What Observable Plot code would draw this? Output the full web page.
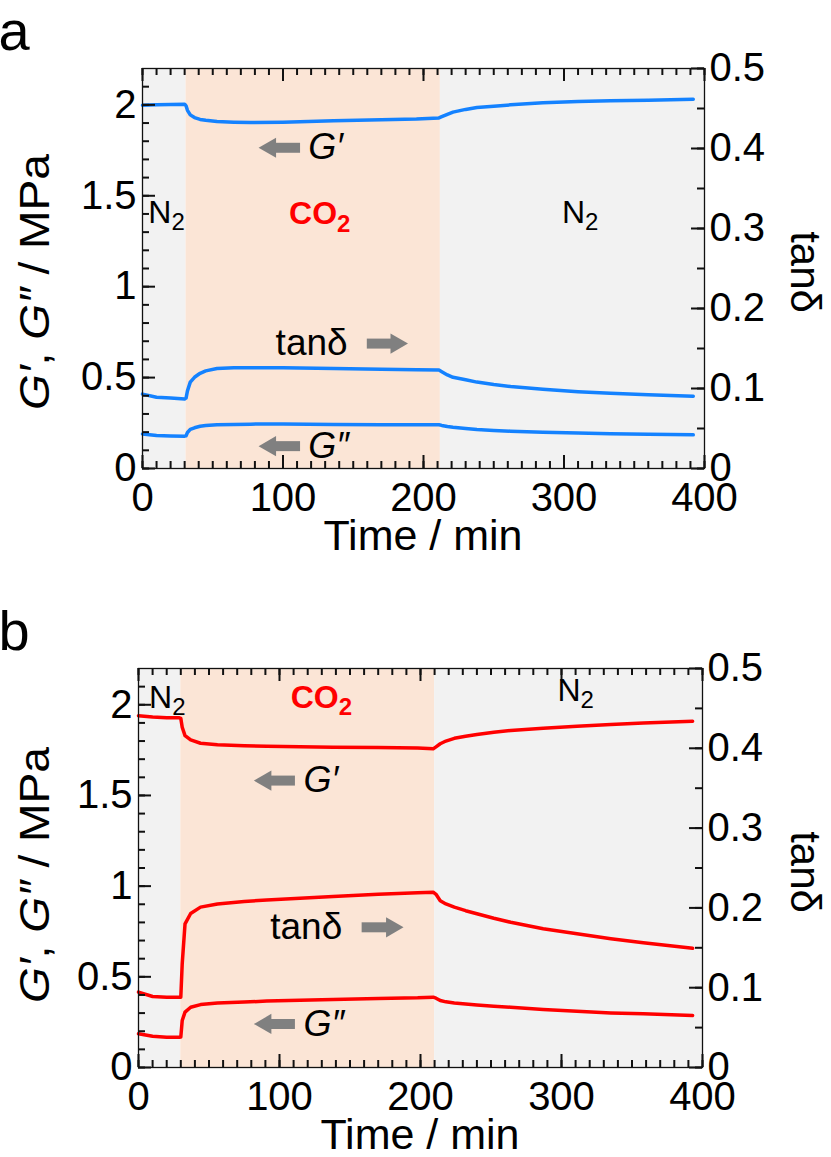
<!DOCTYPE html>
<html><head><meta charset="utf-8">
<script src="https://cdn.jsdelivr.net/npm/d3@7"></script>
<script src="https://cdn.jsdelivr.net/npm/@observablehq/plot@0.6"></script>
<style>
body{margin:0;background:#fff;}
#chart svg{display:block;}
</style></head><body><div id="chart"></div>
<script>
// ---------- data: panel a ----------
const timeA = [0, 10, 20, 30, 31, 32, 34, 37, 41, 45, 53, 65, 77, 100, 136, 170, 195, 211, 213, 217, 221, 230, 238, 250, 262, 285, 310, 333, 360, 392];
const gPrimeA = [1.998, 2.000, 2.002, 2.004, 1.995, 1.970, 1.945, 1.930, 1.920, 1.915, 1.908, 1.905, 1.903, 1.905, 1.912, 1.918, 1.922, 1.928, 1.935, 1.948, 1.960, 1.975, 1.985, 1.993, 2.000, 2.012, 2.018, 2.022, 2.026, 2.031];
const gDoublePrimeA = [0.190, 0.181, 0.179, 0.178, 0.180, 0.198, 0.215, 0.224, 0.232, 0.236, 0.240, 0.242, 0.244, 0.245, 0.242, 0.241, 0.240, 0.241, 0.237, 0.231, 0.227, 0.220, 0.214, 0.209, 0.205, 0.200, 0.195, 0.191, 0.188, 0.185];
const tanDeltaA = [0.093, 0.089, 0.088, 0.087, 0.088, 0.097, 0.108, 0.114, 0.119, 0.122, 0.125, 0.126, 0.126, 0.126, 0.125, 0.124, 0.1234, 0.123, 0.121, 0.117, 0.114, 0.111, 0.108, 0.105, 0.1025, 0.099, 0.096, 0.094, 0.0923, 0.0904];
const phasesA = [{gas: "N2", start: 0, end: 31}, {gas: "CO2", start: 31, end: 212}, {gas: "N2", start: 212, end: 400}];

// ---------- data: panel b ----------
const timeB = [0, 10, 20, 29, 30, 31, 33, 37, 44, 56, 75, 91, 138, 170, 198, 209, 211, 214, 218, 224, 232, 240, 252, 264, 287, 311, 335, 358, 393];
const gPrimeB = [1.940, 1.932, 1.928, 1.928, 1.925, 1.876, 1.830, 1.806, 1.788, 1.779, 1.774, 1.771, 1.766, 1.764, 1.762, 1.757, 1.768, 1.785, 1.800, 1.815, 1.826, 1.836, 1.848, 1.858, 1.871, 1.882, 1.891, 1.900, 1.909];
const gDoublePrimeB = [0.186, 0.172, 0.167, 0.167, 0.168, 0.259, 0.305, 0.332, 0.347, 0.355, 0.361, 0.366, 0.375, 0.380, 0.384, 0.3876, 0.382, 0.369, 0.362, 0.356, 0.350, 0.345, 0.338, 0.332, 0.320, 0.310, 0.301, 0.296, 0.2866];
const tanDeltaB = [0.0945, 0.089, 0.088, 0.088, 0.088, 0.130, 0.180, 0.193, 0.201, 0.205, 0.208, 0.210, 0.2143, 0.217, 0.219, 0.2197, 0.217, 0.209, 0.205, 0.2009, 0.1965, 0.1926, 0.187, 0.182, 0.1738, 0.1675, 0.1613, 0.1562, 0.1495];
const phasesB = [{gas: "N2", start: 0, end: 30}, {gas: "CO2", start: 30, end: 210}, {gas: "N2", start: 210, end: 400}];

// ---------- annotations (data units: time, MPa) ----------
const gasLabelsA = [{main: "N", sub: "2", t: 20.6, v: 1.408, co2: false}, {main: "CO", sub: "2", t: 138.5, v: 1.40, co2: true}, {main: "N", sub: "2", t: 315, v: 1.408, co2: false}];
const gasLabelsB = [{main: "N", sub: "2", t: 23.9, v: 2.04, co2: false}, {main: "CO", sub: "2", t: 142, v: 2.04, co2: true}, {main: "N", sub: "2", t: 313.5, v: 2.08, co2: false}];
const arrowsA = [{tail: 112.5, tip: 82.6, v: 1.764}, {tail: 160, tip: 189, v: 0.687}, {tail: 112.5, tip: 82.6, v: 0.123}];
const arrowsB = [{tail: 111.3, tip: 81.8, v: 1.582}, {tail: 158.6, tip: 188, v: 0.773}, {tail: 111.3, tip: 81.8, v: 0.24}];
const symbolLabelsA = [{text: "G′", t: 118, v: 1.764, italic: true}, {text: "tanδ", t: 146, v: 0.692, italic: false}, {text: "G″", t: 118, v: 0.123, italic: true}];
const symbolLabelsB = [{text: "G′", t: 117, v: 1.582, italic: true}, {text: "tanδ", t: 144.5, v: 0.773, italic: false}, {text: "G″", t: 117, v: 0.24, italic: true}];

// ---------- ticks ----------
const xMajor = [0, 100, 200, 300, 400];
const xMinor = d3.range(0, 401, 10);
const leftMajor = [0, 0.5, 1, 1.5, 2];
const leftLabels = ["0", "0.5", "1", "1.5", "2"];
const leftMinor = d3.range(0, 22).map(i => i / 10);
const rightMajor = [0, 0.1, 0.2, 0.3, 0.4, 0.5];
const rightLabels = ["0", "0.1", "0.2", "0.3", "0.4", "0.5"];
const rightMinor = d3.range(0, 11).map(i => i * 0.05);

const leftDomain = [0, 2.2];
const rightDomain = [0, 0.5];
const K = leftDomain[1] / rightDomain[1];

const GREY = "#f2f2f2", PEACH = "#fbe5d6", ARROW = "#808080", AXIS = "#111";
const FONT = "'Liberation Sans', Arial, sans-serif";

function panel(cfg) {
  const W = 831;
  const {height, ml, mr, mt, mb, color} = cfg;
  const fw = W - ml - mr, fh = height - mt - mb;
  const series = [];
  cfg.time.forEach((t, i) => {
    series.push({t, v: cfg.gp[i], s: "Gp"});
    series.push({t, v: cfg.gpp[i], s: "Gpp"});
    series.push({t, v: cfg.tan[i] * K, s: "tan"});
  });
  const left = cfg.arrows.filter(d => d.tip < d.tail);
  const right = cfg.arrows.filter(d => d.tip > d.tail);
  const T = {stroke: AXIS, strokeWidth: 2};
  const svg = Plot.plot({
    width: W, height,
    marginLeft: ml, marginRight: mr, marginTop: mt, marginBottom: mb,
    style: {fontFamily: FONT, color: "#000", background: "#fff", overflow: "visible"},
    x: {domain: [0, 400], label: null},
    y: {domain: leftDomain, label: null},
    marks: [
      Plot.rect(cfg.phases, {x1: "start", x2: "end", fill: d => d.gas === "CO2" ? PEACH : GREY}),
      Plot.line(series, {x: "t", y: "v", z: "s", stroke: color, strokeWidth: 3.5}),
      // inward ticks: x at bottom and top, y at left and right
      Plot.tickX(xMinor, {x: d => d, insetTop: fh - 7, ...T}),
      Plot.tickX(xMinor, {x: d => d, insetBottom: fh - 7, ...T}),
      Plot.tickX(xMajor, {x: d => d, insetTop: fh - 13, ...T}),
      Plot.tickX(xMajor, {x: d => d, insetBottom: fh - 13, ...T}),
      Plot.tickY(leftMinor, {y: d => d, insetRight: fw - 7, ...T}),
      Plot.tickY(leftMajor, {y: d => d, insetRight: fw - 13, ...T}),
      Plot.tickY(rightMinor.map(d => d * K), {y: d => d, insetLeft: fw - 7, ...T}),
      Plot.tickY(rightMajor.map(d => d * K), {y: d => d, insetLeft: fw - 13, ...T}),
      Plot.frame({stroke: AXIS, strokeWidth: 1.3}),
      Plot.axisX(xMajor, {anchor: "bottom", tickSize: 0, tickPadding: 14, fontSize: 40}),
      Plot.axisY(leftMajor, {anchor: "left", tickSize: 0, tickPadding: 6, fontSize: 40,
        tickFormat: d => leftLabels[leftMajor.indexOf(d)]}),
      Plot.axisY(rightMajor.map(d => d * K), {anchor: "right", tickSize: 0, tickPadding: 5, fontSize: 40,
        tickFormat: d => rightLabels[rightMajor.findIndex(r => Math.abs(r * K - d) < 1e-9)]}),
      // gas labels
      Plot.text(cfg.gas.filter(d => !d.co2), {x: "t", y: "v", text: "main", textAnchor: "end", lineAnchor: "middle", fontSize: 32, fill: "#000"}),
      Plot.text(cfg.gas.filter(d => !d.co2), {x: "t", y: "v", text: "sub", textAnchor: "start", lineAnchor: "middle", dy: 10, fontSize: 24, fill: "#000"}),
      Plot.text(cfg.gas.filter(d => d.co2), {x: "t", y: "v", text: "main", textAnchor: "end", lineAnchor: "middle", fontSize: 32, fontWeight: "bold", fill: "#ff0000"}),
      Plot.text(cfg.gas.filter(d => d.co2), {x: "t", y: "v", text: "sub", textAnchor: "start", lineAnchor: "middle", dy: 10, fontSize: 24, fontWeight: "bold", fill: "#ff0000"}),
      // arrows
      Plot.ruleY(left, {y: "v", x1: "tip", x2: "tail", insetLeft: 12, stroke: ARROW, strokeWidth: 10}),
      Plot.ruleY(right, {y: "v", x1: "tail", x2: "tip", insetRight: 12, stroke: ARROW, strokeWidth: 10}),
      Plot.dot(left, {x: "tip", y: "v", symbol: "triangle", r: 7.5, rotate: -90, dx: 11.7, fill: ARROW, stroke: null}),
      Plot.dot(right, {x: "tip", y: "v", symbol: "triangle", r: 7.5, rotate: 90, dx: -11.7, fill: ARROW, stroke: null}),
      // symbol labels
      Plot.text(cfg.symbols.filter(d => d.italic), {x: "t", y: "v", text: "text", textAnchor: "start", lineAnchor: "middle", fontSize: 36, fontStyle: "italic", fill: "#000"}),
      Plot.text(cfg.symbols.filter(d => !d.italic), {x: "t", y: "v", text: "text", textAnchor: "end", lineAnchor: "middle", fontSize: 37, fill: "#000"})
    ]
  });
  const s = d3.select(svg);
  // panel letter
  s.append("text").attr("x", 14).attr("y", cfg.letterY).attr("font-size", 56).attr("font-family", FONT).text(cfg.letter);
  // x title
  s.append("text").attr("x", ml + fw / 2).attr("y", mt + fh + 82).attr("text-anchor", "middle")
    .attr("font-size", 43).attr("font-family", FONT).text("Time / min");
  // left title
  const lt = s.append("text").attr("transform", `translate(34,${cfg.leftTitleY}) rotate(-90) scale(1.1,1)`)
    .attr("text-anchor", "middle").attr("dy", "0.35em").attr("font-size", 42).attr("font-family", FONT);
  lt.append("tspan").attr("font-style", "italic").text("G′");
  lt.append("tspan").text(", ");
  lt.append("tspan").attr("font-style", "italic").text("G″");
  lt.append("tspan").text(" / MPa");
  // right title
  s.append("text").attr("transform", `translate(806,${cfg.rightTitleY}) rotate(90)`)
    .attr("text-anchor", "middle").attr("dy", "0.35em").attr("font-size", 42).attr("font-family", FONT).text("tanδ");
  return svg;
}

const root = document.getElementById("chart");
root.appendChild(panel({
  height: 578, ml: 142, mr: 127, mt: 68, mb: 110, color: "#1482ff",
  time: timeA, gp: gPrimeA, gpp: gDoublePrimeA, tan: tanDeltaA, phases: phasesA,
  gas: gasLabelsA, arrows: arrowsA, symbols: symbolLabelsA,
  letter: "a", letterY: 50, leftTitleY: 282, rightTitleY: 272
}));
root.appendChild(panel({
  height: 579, ml: 138, mr: 129, mt: 90, mb: 90, color: "#ff0000",
  time: timeB, gp: gPrimeB, gpp: gDoublePrimeB, tan: tanDeltaB, phases: phasesB,
  gas: gasLabelsB, arrows: arrowsB, symbols: symbolLabelsB,
  letter: "b", letterY: 72, leftTitleY: 297, rightTitleY: 294
}));
</script></body></html>
